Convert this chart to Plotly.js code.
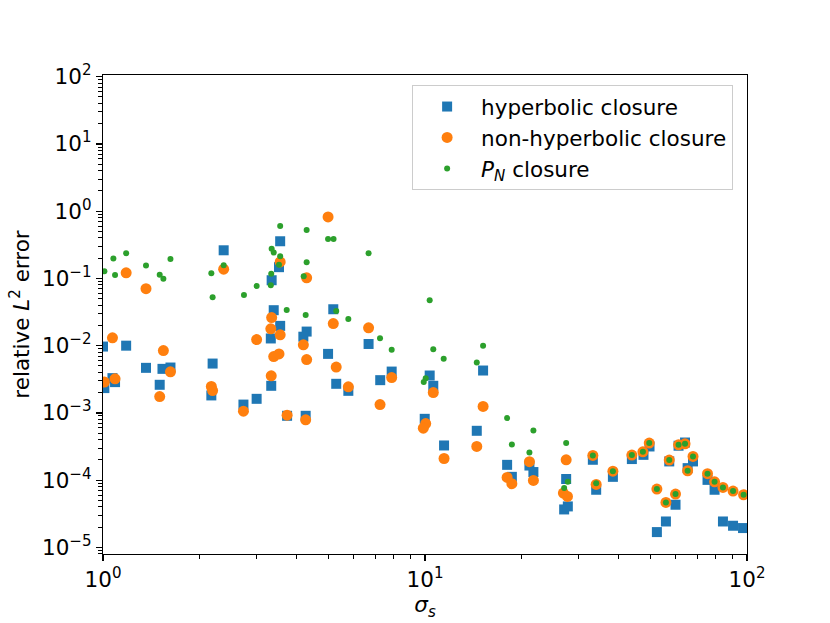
<!DOCTYPE html>
<html>
<head>
<meta charset="utf-8">
<script src="https://cdn.plot.ly/plotly-3.0.1.min.js"></script>
<style>
  html, body { margin: 0; padding: 0; background: #fff; }
  #chart { width: 830px; height: 623px; }
</style>
</head>
<body>
<div id="chart"></div>
<script>
// values
var hypSigma = [1.0, 1.18, 2.37, 3.55, 3.52, 3.34, 3.39, 3.55, 3.32, 4.29, 4.19,
  1.36, 1.53, 1.62, 2.19, 1.50, 1.07, 1.09, 1.01, 2.17, 3.33, 2.73, 3.00, 3.73, 4.26,
  5.19, 6.68, 5.00, 5.30, 5.78, 7.26, 7.88, 10.34, 10.61, 9.98,
  15.15, 14.48, 11.46, 17.99, 18.61, 21.10, 21.71, 27.44, 33.21, 34.01, 38.33, 27.05, 27.77,
  43.9, 47.7, 49.8, 57.35, 52.5, 56.0, 59.98, 61.3, 64.2, 67.97, 65.4, 75.4, 79.3, 84.2, 90.5, 97.2];
var hypErr = [9.7e-3, 1.0e-2, 0.262, 0.357, 0.147, 0.094, 0.0337, 0.0197, 0.0128, 0.0162, 0.0136,
  4.68e-3, 4.52e-3, 4.73e-3, 5.42e-3, 2.62e-3, 3.29e-3, 2.87e-3, 2.34e-3, 1.82e-3, 2.53e-3, 1.33e-3, 1.62e-3, 9.06e-4, 9.06e-4,
  0.0348, 0.0106, 7.55e-3, 2.71e-3, 2.13e-3, 3.07e-3, 4.12e-3, 3.60e-3, 2.53e-3, 8.17e-4,
  4.27e-3, 5.42e-4, 3.28e-4, 1.69e-4, 1.12e-4, 1.65e-4, 1.32e-4, 1.04e-4, 2.01e-4, 7.20e-5, 1.12e-4, 3.67e-5, 4.07e-5,
  2.06e-4, 2.38e-4, 3.17e-4, 1.90e-4, 1.69e-5, 2.43e-5, 4.31e-5, 3.25e-4, 3.63e-4, 1.90e-4, 1.51e-4, 1.01e-4, 7.20e-5, 2.43e-5, 2.10e-5, 1.94e-5];

var nonhypSigma = [1.18, 1.36, 2.37, 3.55, 4.29, 3.34, 3.32, 3.55, 3.00, 4.19, 1.07, 1.54, 3.39, 3.52, 4.29,
  1.62, 1.01, 1.09, 1.50, 2.17, 2.19, 3.33, 2.73, 3.73, 4.26,
  5.00, 5.19, 6.68, 5.30, 5.78, 7.88, 7.25, 10.61, 10.05, 9.88,
  15.15, 14.48, 11.46, 17.99, 18.61, 21.10, 21.71, 27.44, 26.9, 27.7, 33.21, 34.01, 38.33,
  43.9, 47.5, 49.7, 57.35, 52.5, 56.0, 59.98, 61.3, 64.2, 67.97, 65.4, 75.4, 79.3, 84.2, 90.5, 97.6];
var nonhypErr = [0.121, 0.0705, 0.137, 0.176, 0.102, 0.0262, 0.0178, 0.0145, 0.0123, 0.0103, 0.0131, 8.46e-3, 6.89e-3, 7.55e-3, 6.21e-3,
  4.08e-3, 2.87e-3, 3.21e-3, 1.75e-3, 2.47e-3, 2.15e-3, 3.56e-3, 1.06e-3, 9.27e-4, 7.89e-4,
  0.820, 0.0213, 0.0184, 4.80e-3, 2.44e-3, 3.36e-3, 1.33e-3, 2.01e-3, 6.95e-4, 5.94e-4,
  1.25e-3, 3.17e-4, 2.10e-4, 1.10e-4, 8.85e-5, 1.88e-4, 9.9e-5, 2.01e-4, 6.43e-5, 5.73e-5, 2.33e-4, 8.63e-5, 1.36e-4,
  2.36e-4, 2.64e-4, 3.56e-4, 1.99e-4, 7.38e-5, 4.67e-5, 6.21e-5, 3.36e-4, 3.47e-4, 2.25e-4, 1.38e-4, 1.25e-4, 9.46e-5, 7.80e-5, 6.89e-5, 6.07e-5];

var pnSigma = [1.01, 1.077, 1.18, 1.09, 1.36, 1.50, 1.54, 1.62, 2.17, 2.37, 2.19, 2.74, 3.00,
  3.55, 4.29, 3.34, 3.39, 3.55, 3.52, 4.29, 4.20, 3.33, 3.32, 3.72, 4.26,
  5.00, 5.20, 6.68, 5.30, 5.78, 7.25, 7.88, 10.34, 10.61, 11.43, 10.05, 9.91,
  15.15, 14.48, 17.99, 21.71, 18.61, 21.10, 27.44, 33.21, 27.77, 27.05, 34.01, 38.33,
  43.9, 47.5, 49.7, 57.35, 52.5, 56.0, 59.98, 61.3, 64.2, 67.97, 65.4, 75.4, 79.3, 84.2, 90.5, 97.6];
var pnErr = [0.128, 0.197, 0.237, 0.112, 0.155, 0.113, 0.0993, 0.195, 0.119, 0.157, 0.0526, 0.0569, 0.0774,
  0.603, 0.526, 0.277, 0.242, 0.214, 0.160, 0.174, 0.108, 0.117, 0.0792, 0.0340, 0.0287,
  0.386, 0.386, 0.237, 0.0329, 0.0250, 0.0129, 8.67e-3, 0.0474, 8.87e-3, 6.37e-3, 3.29e-3, 2.87e-3,
  9.93e-3, 5.61e-3, 8.37e-4, 5.48e-4, 3.39e-4, 2.58e-4, 3.56e-4, 2.33e-4, 9.46e-5, 7.63e-5, 9.0e-5, 1.36e-4,
  2.36e-4, 2.64e-4, 3.56e-4, 1.99e-4, 7.38e-5, 4.67e-5, 6.21e-5, 3.36e-4, 3.47e-4, 2.25e-4, 1.38e-4, 1.25e-4, 9.46e-5, 7.80e-5, 6.89e-5, 6.07e-5];

var decadeTicks = [1e-5, 1e-4, 1e-3, 1e-2, 1e-1, 1, 10, 100];
var decadeLabels = ['10<sup>−5</sup>', '10<sup>−4</sup>', '10<sup>−3</sup>', '10<sup>−2</sup>',
  '10<sup>−1</sup>', '10<sup>0</sup>', '10<sup>1</sup>', '10<sup>2</sup>'];

function minorTicks(lo, hi) {
  var out = [];
  for (var p = lo; p < hi; p++) {
    for (var m = 2; m <= 9; m++) out.push(m * Math.pow(10, p));
  }
  return out;
}

var font = {family: 'DejaVu Sans, sans-serif', size: 21.5, color: '#000'};

var traces = [
  {
    x: hypSigma, y: hypErr, type: 'scatter', mode: 'markers',
    name: 'hyperbolic closure', legendgroup: 'a',
    marker: {symbol: 'square', size: 10, color: '#1f77b4'}
  },
  {
    x: nonhypSigma, y: nonhypErr, type: 'scatter', mode: 'markers',
    name: 'non-hyperbolic closure', legendgroup: 'b',
    marker: {symbol: 'circle', size: 11, color: '#ff7f0e'}
  },
  {
    x: pnSigma, y: pnErr, type: 'scatter', mode: 'markers',
    name: '<i>P<sub>N</sub></i> closure', legendgroup: 'c',
    marker: {symbol: 'circle', size: 6, color: '#2ca02c'}
  }
];

var axisCommon = {
  type: 'log',
  showgrid: false, zeroline: false,
  showline: true, linecolor: '#000', linewidth: 1.2, mirror: true,
  ticks: 'outside', ticklen: 6, tickwidth: 1.2, tickcolor: '#000',
  tickfont: font
};

var layout = {
  width: 830, height: 623,
  margin: {l: 103, r: 83, t: 75, b: 69},
  paper_bgcolor: '#fff', plot_bgcolor: '#fff',
  font: font,
  showlegend: true,
  xaxis: Object.assign({}, axisCommon, {
    range: [0, 2],
    tickmode: 'array', tickvals: [1, 10, 100], ticktext: ['10<sup>0</sup>', '10<sup>1</sup>', '10<sup>2</sup>'],
    minor: {tickmode: 'array', tickvals: minorTicks(0, 2), ticks: 'outside', ticklen: 3.5, tickwidth: 1, tickcolor: '#000'},
    title: {text: '<i>σ<sub>s</sub></i>', font: font, standoff: 4}
  }),
  yaxis: Object.assign({}, axisCommon, {
    range: [-5.098, 2.025],
    tickmode: 'array', tickvals: decadeTicks, ticktext: decadeLabels,
    minor: {tickmode: 'array', tickvals: minorTicks(-6, 2), ticks: 'outside', ticklen: 3.5, tickwidth: 1, tickcolor: '#000'},
    title: {text: 'relative <i>L</i><sup>2</sup> error', font: font, standoff: 6}
  }),
  legend: {
    x: 0.48, y: 0.979, xanchor: 'left', yanchor: 'top',
    bgcolor: '#fff', bordercolor: '#cccccc', borderwidth: 1,
    font: font, traceorder: 'grouped', tracegroupgap: 0, itemwidth: 58
  }
};

Plotly.newPlot('chart', traces, layout, {displayModeBar: false, staticPlot: true});
</script>
</body>
</html>
